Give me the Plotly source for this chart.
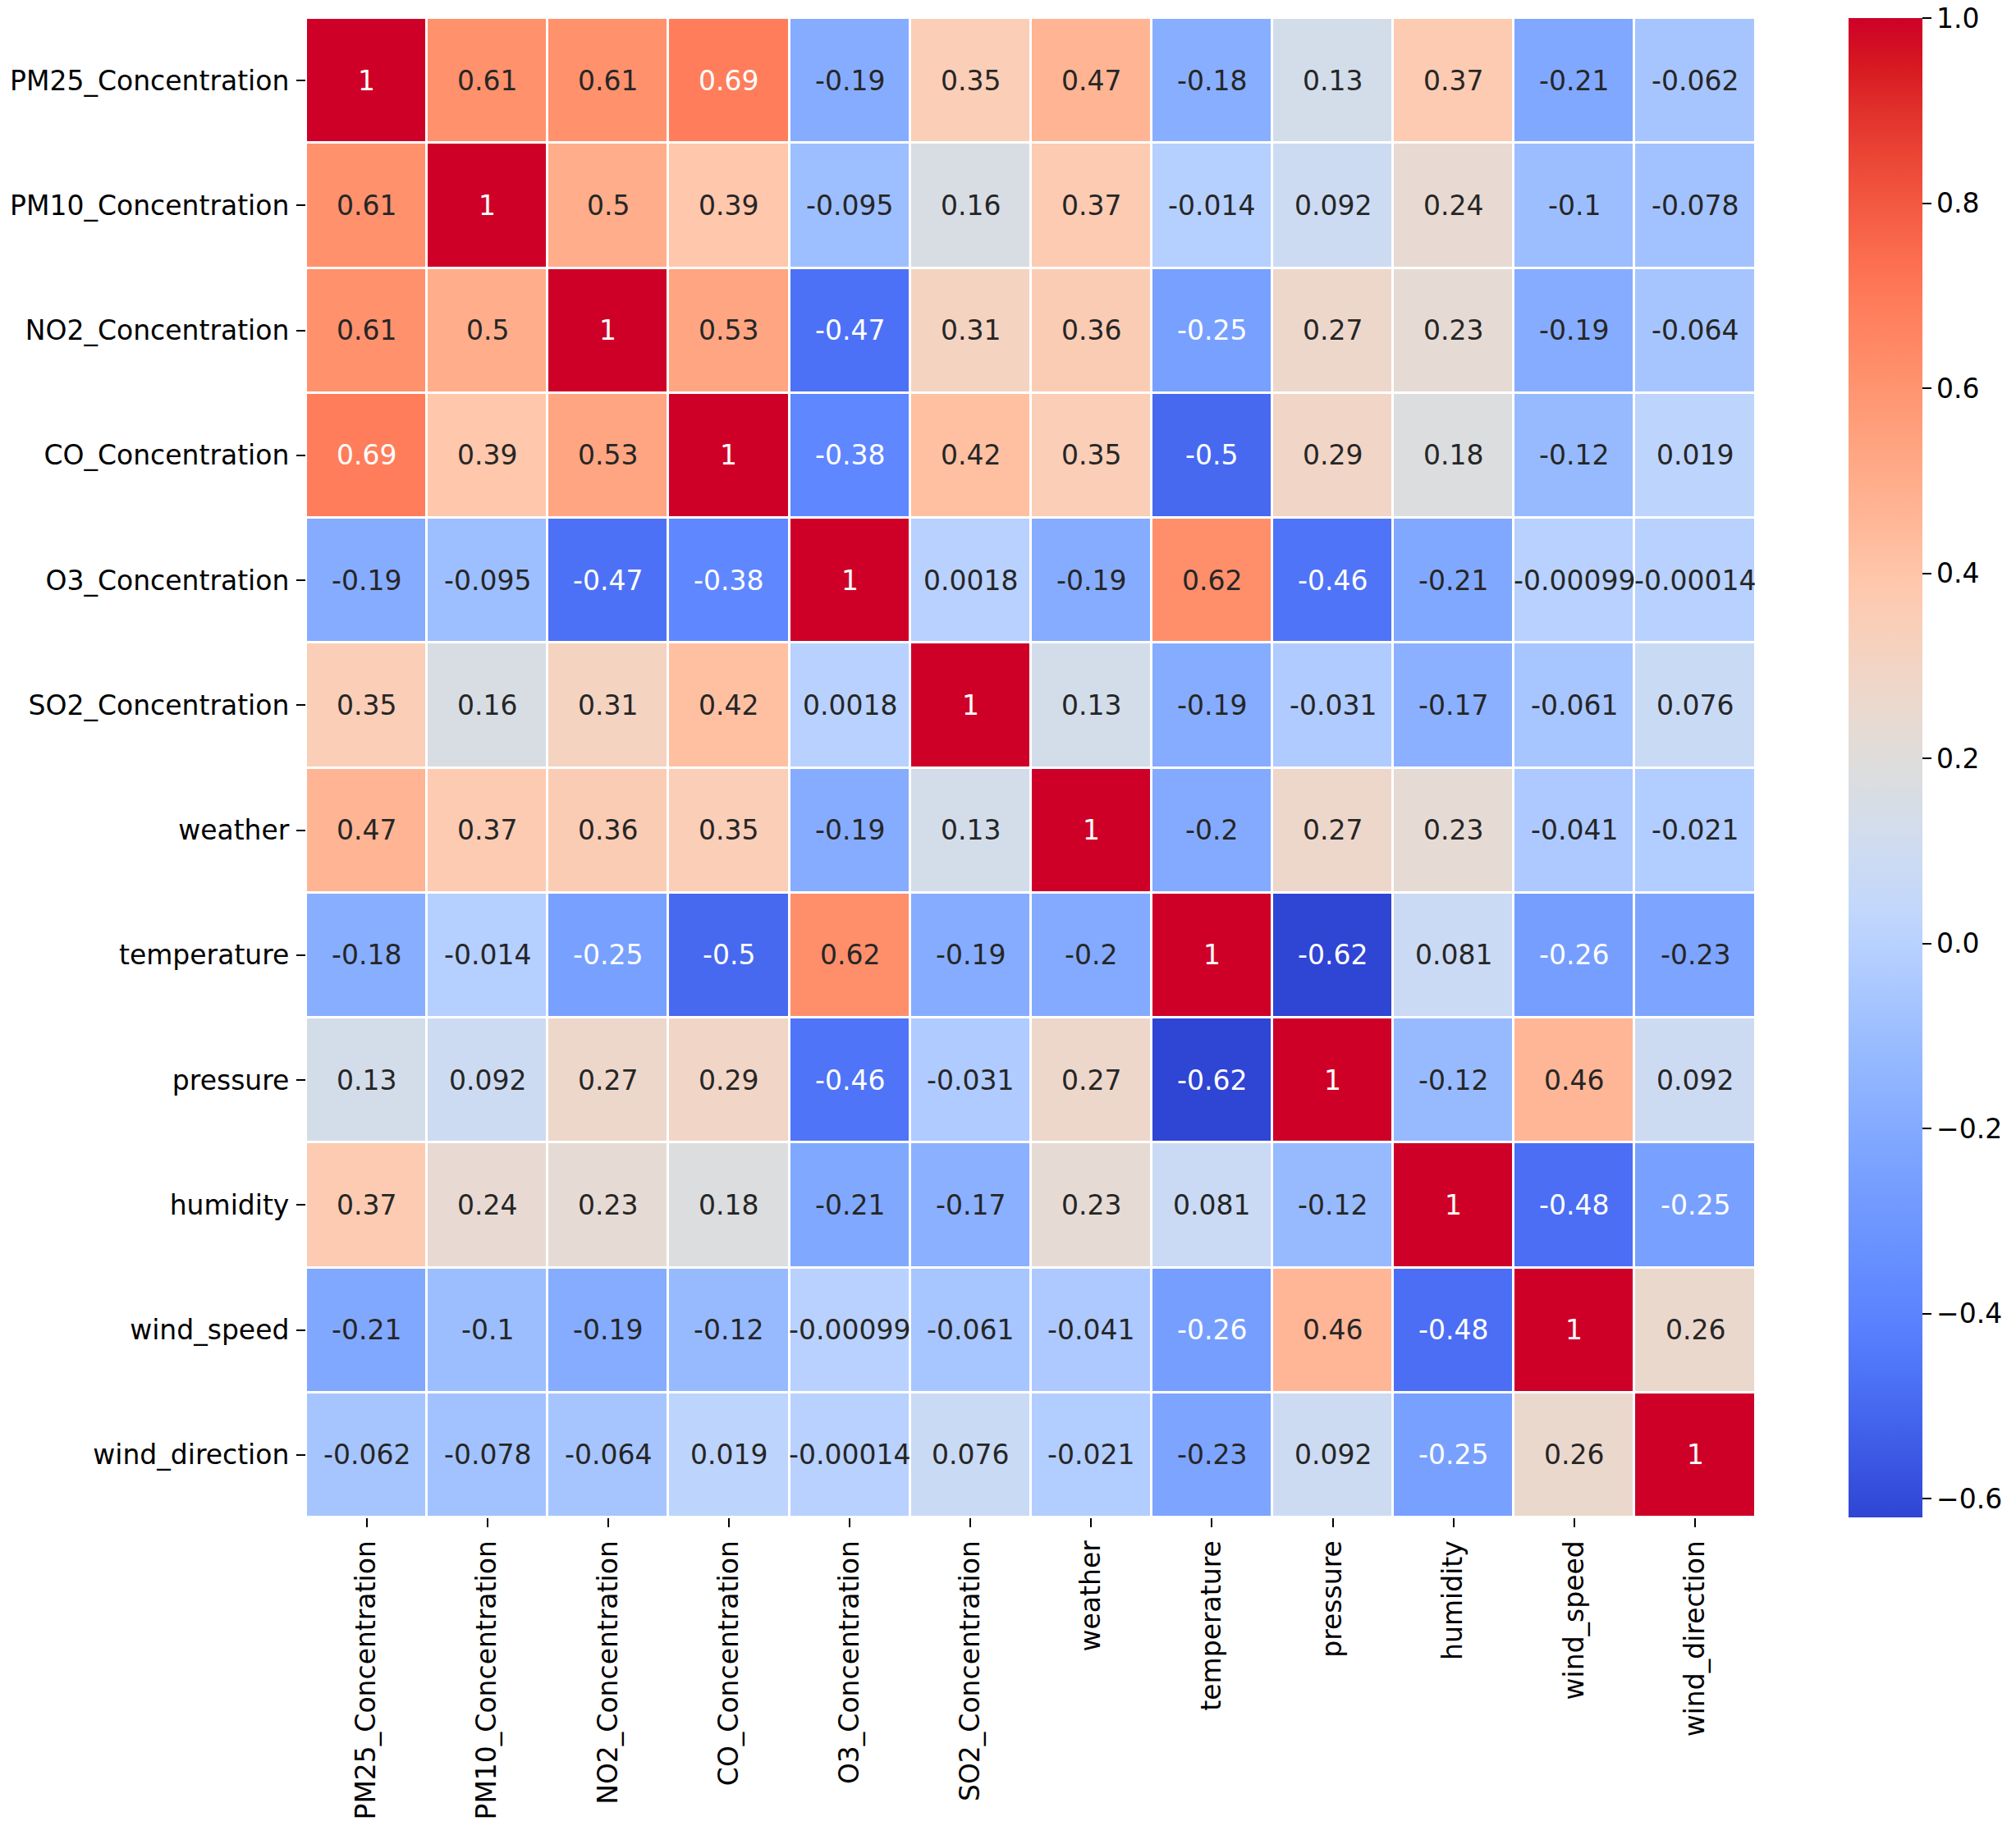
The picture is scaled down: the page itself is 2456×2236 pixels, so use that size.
import colorsys
import plotly.graph_objects as go

# %% Daten

labels = ["PM25_Concentration", "PM10_Concentration", "NO2_Concentration", "CO_Concentration",
          "O3_Concentration", "SO2_Concentration", "weather", "temperature", "pressure",
          "humidity", "wind_speed", "wind_direction"]

pm25 = [1, 0.61, 0.61, 0.69, -0.19, 0.35, 0.47, -0.18, 0.13, 0.37, -0.21, -0.062]
pm10 = [0.61, 1, 0.5, 0.39, -0.095, 0.16, 0.37, -0.014, 0.092, 0.24, -0.1, -0.078]
no2 = [0.61, 0.5, 1, 0.53, -0.47, 0.31, 0.36, -0.25, 0.27, 0.23, -0.19, -0.064]
co = [0.69, 0.39, 0.53, 1, -0.38, 0.42, 0.35, -0.5, 0.29, 0.18, -0.12, 0.019]
o3 = [-0.19, -0.095, -0.47, -0.38, 1, 0.0018, -0.19, 0.62, -0.46, -0.21, -0.00099, -0.00014]
so2 = [0.35, 0.16, 0.31, 0.42, 0.0018, 1, 0.13, -0.19, -0.031, -0.17, -0.061, 0.076]
weather = [0.47, 0.37, 0.36, 0.35, -0.19, 0.13, 1, -0.2, 0.27, 0.23, -0.041, -0.021]
temperature = [-0.18, -0.014, -0.25, -0.5, 0.62, -0.19, -0.2, 1, -0.62, 0.081, -0.26, -0.23]
pressure = [0.13, 0.092, 0.27, 0.29, -0.46, -0.031, 0.27, -0.62, 1, -0.12, 0.46, 0.092]
humidity = [0.37, 0.24, 0.23, 0.18, -0.21, -0.17, 0.23, 0.081, -0.12, 1, -0.48, -0.25]
wind_speed = [-0.21, -0.1, -0.19, -0.12, -0.00099, -0.061, -0.041, -0.26, 0.46, -0.48, 1, 0.26]
wind_direction = [-0.062, -0.078, -0.064, 0.019, -0.00014, 0.076, -0.021, -0.23, 0.092, -0.25, 0.26, 1]

corr = [pm25, pm10, no2, co, o3, so2, weather, temperature, pressure, humidity, wind_speed, wind_direction]

z_min, z_max = -0.62, 1.0

# %% Farbskala (coolwarm, gesättigte Farben etwas kräftiger wie im Screenshot)

coolwarm = [
    (0.2298, 0.2987, 0.7537), (0.2662, 0.3531, 0.8015), (0.3039, 0.4065, 0.8450),
    (0.3428, 0.4588, 0.8837), (0.3830, 0.5094, 0.9174), (0.4244, 0.5581, 0.9456),
    (0.4667, 0.6046, 0.9682), (0.5096, 0.6483, 0.9848), (0.5530, 0.6889, 0.9954),
    (0.5963, 0.7261, 0.9998), (0.6392, 0.7596, 0.9982), (0.6813, 0.7890, 0.9904),
    (0.7222, 0.8140, 0.9766), (0.7615, 0.8343, 0.9569), (0.7987, 0.8498, 0.9317),
    (0.8335, 0.8602, 0.9011), (0.8654, 0.8654, 0.8654), (0.8978, 0.8489, 0.8209),
    (0.9241, 0.8274, 0.7745), (0.9445, 0.8009, 0.7267), (0.9589, 0.7698, 0.6780),
    (0.9673, 0.7341, 0.6288), (0.9700, 0.6943, 0.5794), (0.9668, 0.6504, 0.5303),
    (0.9580, 0.6028, 0.4818), (0.9437, 0.5518, 0.4342), (0.9239, 0.4973, 0.3880),
    (0.8990, 0.4396, 0.3432), (0.8692, 0.3783, 0.3003), (0.8346, 0.3129, 0.2593),
    (0.7956, 0.2413, 0.2205), (0.7525, 0.1572, 0.1841), (0.7057, 0.0156, 0.1502),
]


def boost(rgb):
    # nur gesättigte Farben aufhellen, Grau in der Mitte bleibt
    h, s, v = colorsys.rgb_to_hsv(*rgb)
    r, g, b = colorsys.hsv_to_rgb(h, min(1, s * 1.12), min(1, v * (1 + 0.15 * s)))
    return f"rgb({round(r * 255)},{round(g * 255)},{round(b * 255)})"


n = len(coolwarm) - 1
colorscale = [[i / n, boost(c)] for i, c in enumerate(coolwarm)]

# %% Plot

fig = go.Figure(go.Heatmap(
    z=corr, x=labels, y=labels,
    zmin=z_min, zmax=z_max,
    colorscale=colorscale,
    xgap=3, ygap=3,
    colorbar=dict(
        x=1.0628, xanchor="left", y=0.5, yanchor="middle",
        len=1, lenmode="fraction", thickness=90, outlinewidth=0, xpad=0, ypad=0,
        tick0=0, dtick=0.2, tickformat=".1f",
        ticks="outside", ticklen=11, tickwidth=2, tickcolor="#000",
        ticklabeloverflow="allow",
        tickfont=dict(size=33, color="#000"),
    ),
))

# Zahlen in die Zellen schreiben (weiß auf dunklen Zellen)
for i, row_name in enumerate(labels):
    for j, col_name in enumerate(labels):
        v = corr[i][j]
        fig.add_annotation(
            x=col_name, y=row_name, text=f"{v:.2g}", showarrow=False,
            font=dict(size=33, color="white" if (v < -0.24 or v > 0.65) else "#262626"),
        )

fig.update_xaxes(tickangle=-90, ticks="outside", ticklen=11, tickwidth=2, tickcolor="#000",
                 ticklabelstandoff=3, automargin=False,
                 showgrid=False, zeroline=False, tickfont=dict(size=33, color="#000"))
fig.update_yaxes(autorange="reversed", ticks="outside", ticklen=11, tickwidth=2, tickcolor="#000",
                 ticklabelstandoff=2, automargin=False,
                 showgrid=False, zeroline=False, tickfont=dict(size=33, color="#000"))

# Seite hat 8px Rand, deshalb etwas kleiner
fig.update_layout(
    width=2448, height=2228,
    margin=dict(l=365, r=315, t=14, b=387, autoexpand=False),
    paper_bgcolor="white", plot_bgcolor="white",
    font=dict(family="DejaVu Sans", color="#000"),
)

fig.write_html("out.html")
